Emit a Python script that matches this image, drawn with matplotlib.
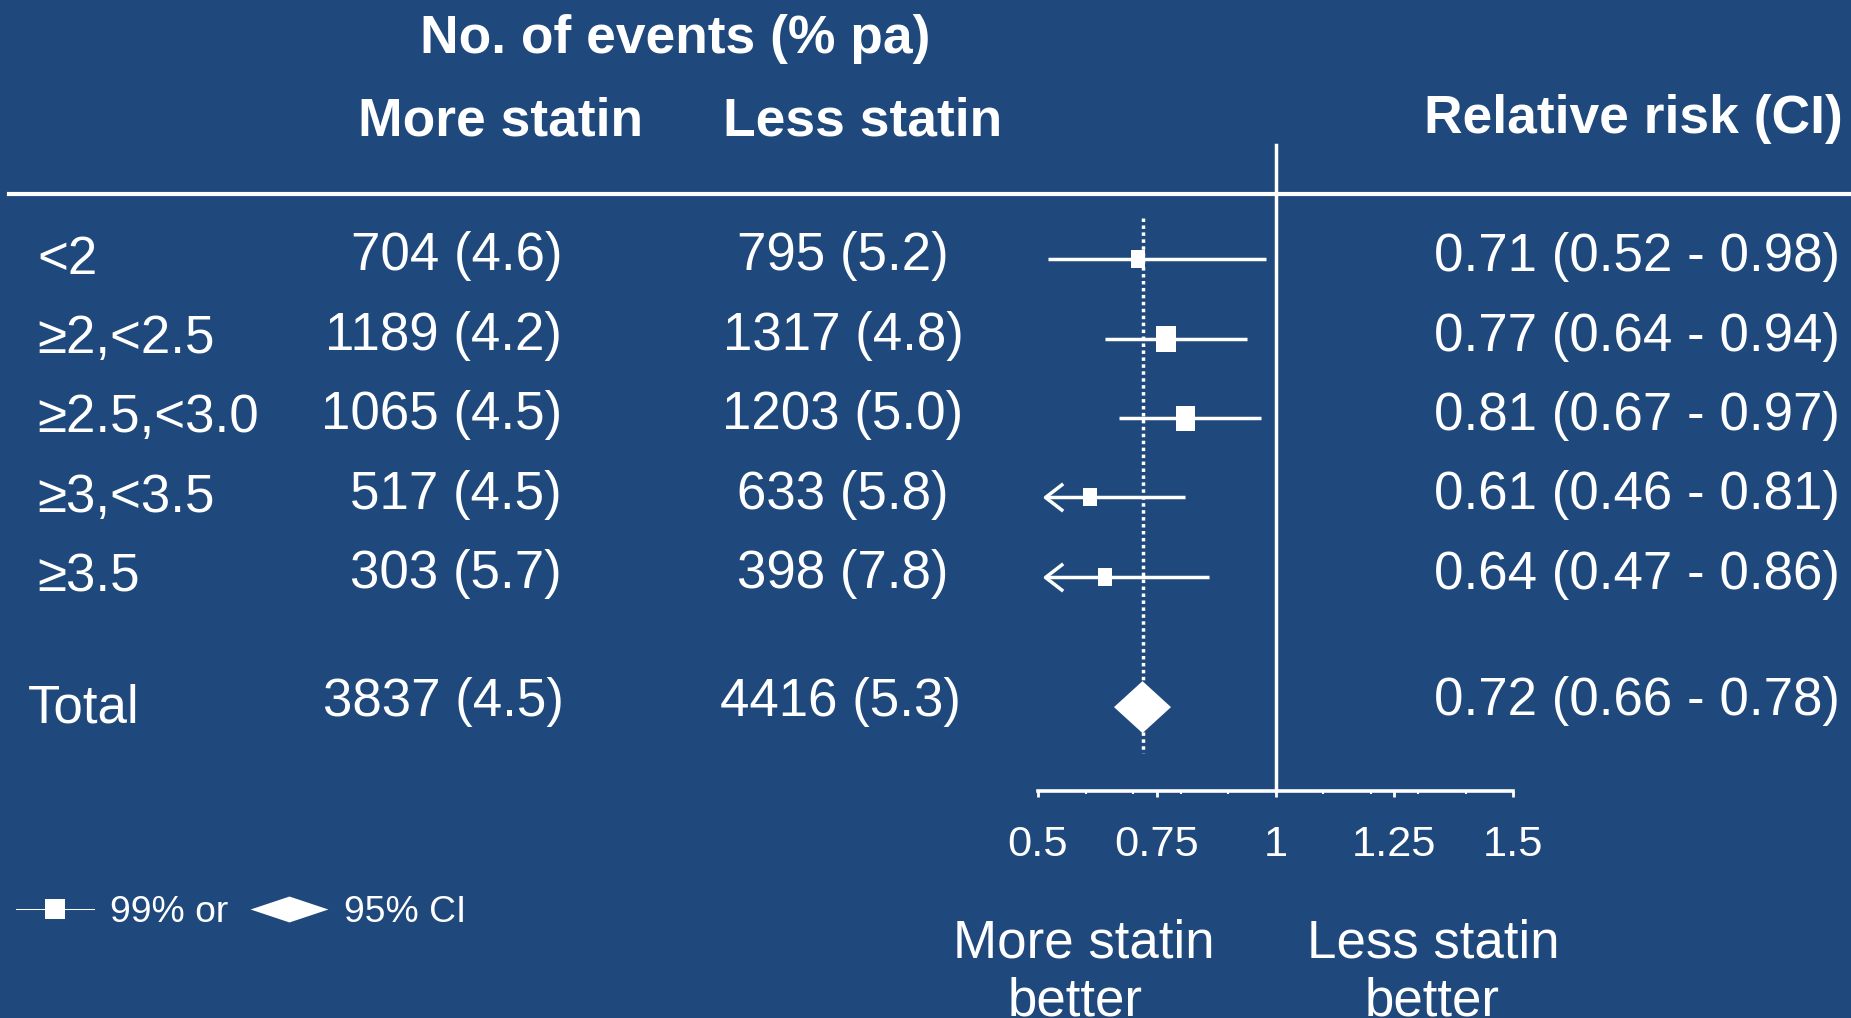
import numpy as np
import matplotlib
matplotlib.use("Agg")
import matplotlib.pyplot as plt
from matplotlib import transforms
from matplotlib.lines import Line2D
from matplotlib.path import Path
from matplotlib.ticker import FixedLocator, MultipleLocator

# ---- data -------------------------------------------------------------
subgroups = ["<2", "≥2,<2.5", "≥2.5,<3.0", "≥3,<3.5", "≥3.5"]
more_events = [704, 1189, 1065, 517, 303]
more_rate = [4.6, 4.2, 4.5, 4.5, 5.7]
less_events = [795, 1317, 1203, 633, 398]
less_rate = [5.2, 4.8, 5.0, 5.8, 7.8]
rr = [0.71, 0.77, 0.81, 0.61, 0.64]
ci_lo = [0.52, 0.64, 0.67, 0.46, 0.47]
ci_hi = [0.98, 0.94, 0.97, 0.81, 0.86]

total_label = "Total"
total_more_events, total_more_rate = 3837, 4.5
total_less_events, total_less_rate = 4416, 5.3
total_rr, total_lo, total_hi = 0.72, 0.66, 0.78

xticks = [0.5, 0.75, 1, 1.25, 1.5]
xtick_labels = ["0.5", "0.75", "1", "1.25", "1.5"]

# ---- style ------------------------------------------------------------
BG = "#1F497D"
FG = "white"
box_heights_px = [18, 26, 25, 18, 18]
plt.rcParams["font.family"] = ["Liberation Sans", "DejaVu Sans"]
FS_BODY = 38.1
FS_HEAD = 38.4
FS_TICK = 31.2
FS_LEGEND = 26.8

W, H = 1851, 1018
fig = plt.figure(figsize=(W / 100, H / 100), dpi=100, facecolor=BG)

# pixel canvas for the table text
bg = fig.add_axes([0, 0, 1, 1])
bg.set_xlim(0, W)
bg.set_ylim(H, 0)
bg.axis("off")

# forest panel: x in relative-risk units, y in row units
px_left, px_right, px_top, px_bottom = 1038, 1513, 145, 791
row0_px, row_step_px = 259.3, 79.4
ax = fig.add_axes([px_left / W, 1 - px_bottom / H,
                   (px_right - px_left) / W, (px_bottom - px_top) / H])
ax.set_xlim(0.5, 1.5)
ax.set_ylim((px_bottom - row0_px) / row_step_px, (px_top - row0_px) / row_step_px)
ax.patch.set_visible(False)
for side in ("top", "left", "right"):
    ax.spines[side].set_visible(False)
ax.spines["bottom"].set_color(FG)
ax.spines["bottom"].set_linewidth(2.6)
ax.set_yticks([])
ax.xaxis.set_major_locator(FixedLocator(xticks))
ax.set_xticklabels(xtick_labels)
ax.xaxis.set_minor_locator(MultipleLocator(0.1))
ax.tick_params(axis="x", which="major", direction="out", length=4, width=2,
               colors=FG, labelsize=FS_TICK, pad=20.8)
ax.tick_params(axis="x", which="minor", direction="out", length=2, width=1.5,
               colors=FG)

pos = np.arange(len(subgroups), dtype=float)
total_pos = pos[-1] + 1.64
x_min = ax.get_xlim()[0]
arrow_tip = x_min + 0.015

rect_marker = Path([(-0.38, -0.5), (0.38, -0.5), (0.38, 0.5), (-0.38, 0.5), (-0.38, -0.5)],
                   closed=True)
chevron_marker = Path([(1.3, 1.0), (0.0, 0.0), (1.3, -1.0)],
                      [Path.MOVETO, Path.LINETO, Path.LINETO])
wide_diamond = Path([(-1.5, 0), (0, 0.5), (1.5, 0), (0, -0.5), (-1.5, 0)], closed=True)

# line of no effect and pooled estimate reference
ax.axvline(1.0, ymin=0, ymax=1, color=FG, lw=2.5, clip_on=False, zorder=2)
ax.plot([total_rr, total_rr], [pos[0] - 0.52, total_pos + 0.58], color=FG, lw=2.5,
        linestyle=(0, (1, 1.0)), zorder=1)

# subgroup estimates with confidence intervals
for y, r, lo, hi, h in zip(pos, rr, ci_lo, ci_hi, box_heights_px):
    left = max(lo, arrow_tip)
    ax.plot([left, hi], [y, y], color=FG, lw=2.5, solid_capstyle="butt", zorder=3)
    if lo < x_min:
        ax.plot([arrow_tip], [y], marker=chevron_marker, ms=25.5, mfc="none",
                mec=FG, mew=2.5, ls="none", zorder=3, clip_on=False)
    ax.plot([r], [y], marker=rect_marker, ms=h * 0.72, color=FG, mew=0,
            ls="none", zorder=4)

# pooled estimate diamond
half_h = 26 / row_step_px
ax.fill([total_lo, total_rr, total_hi, total_rr],
        [total_pos, total_pos - half_h, total_pos, total_pos + half_h],
        color=FG, lw=0, zorder=4)

# ---- table text ---------------------------------------------------------
row_tf = transforms.blended_transform_factory(bg.transData, ax.transData)
txt = dict(color=FG, fontsize=FS_BODY, va="baseline")
bold = dict(color=FG, fontsize=FS_HEAD, va="baseline", fontweight="bold")

bg.text(675, 53, "No. of events (% pa)", ha="center", **bold)
bg.text(500, 135, "More statin", ha="center", **bold)
bg.text(863, 135, "Less statin", ha="center", **bold)
bg.text(1843, 133, "Relative risk (CI)", ha="right", **bold)

# header rule
bg.axhline(193.5, xmin=9 / W, xmax=1, color=FG, lw=3)

for i, label in enumerate(subgroups):
    y = pos[i]
    bg.text(37, y + 0.18, label, transform=row_tf, ha="left", **txt)
    bg.text(562, y + 0.14, f"{more_events[i]} ({more_rate[i]:.1f})",
            transform=row_tf, ha="right", **txt)
    bg.text(843, y + 0.14, f"{less_events[i]} ({less_rate[i]:.1f})",
            transform=row_tf, ha="center", **txt)
    bg.text(1434, y + 0.15, f"{rr[i]:.2f} ({ci_lo[i]:.2f} - {ci_hi[i]:.2f})",
            transform=row_tf, ha="left", **txt)

bg.text(28, total_pos + 0.19, total_label, transform=row_tf, ha="left", **txt)
bg.text(564, total_pos + 0.11, f"{total_more_events} ({total_more_rate:.1f})",
        transform=row_tf, ha="right", **txt)
bg.text(840, total_pos + 0.11, f"{total_less_events} ({total_less_rate:.1f})",
        transform=row_tf, ha="center", **txt)
bg.text(1434, total_pos + 0.10, f"{total_rr:.2f} ({total_lo:.2f} - {total_hi:.2f})",
        transform=row_tf, ha="left", **txt)

# direction captions under the axis
bg.text(1084, 957, "More statin", ha="center", **txt)
bg.text(1075, 1016, "better", ha="center", **txt)
bg.text(1433, 957, "Less statin", ha="center", **txt)
bg.text(1432, 1016, "better", ha="center", **txt)

# ---- legend -------------------------------------------------------------
fs_px = FS_LEGEND * 100 / 72
handles = [
    Line2D([0], [0], color=FG, lw=0.75, marker="s", ms=14.5, mew=0),
    Line2D([0], [0], ls="none", marker=wide_diamond, ms=56, color=FG, mew=0),
]
fig.legend(handles=handles, labels=["99% or", "95% CI"], ncol=2,
           loc="center left", bbox_to_anchor=(16 / W, 1 - 912.4 / H),
           frameon=False, fontsize=FS_LEGEND, labelcolor=FG,
           handlelength=78 / fs_px, handletextpad=16 / fs_px,
           columnspacing=22 / fs_px, borderpad=0, borderaxespad=0)

fig.savefig("out.png", dpi=100, facecolor=BG)
